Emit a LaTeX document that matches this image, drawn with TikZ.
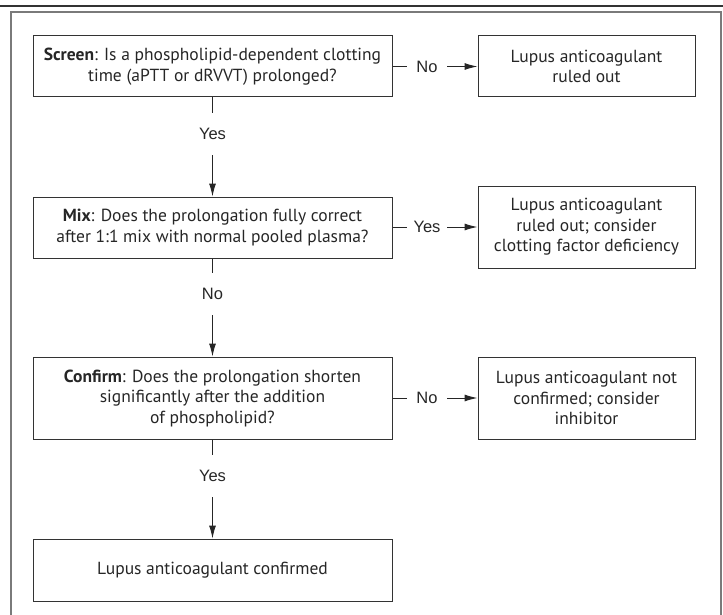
\documentclass[tikz,border=0pt]{standalone}
\usepackage{fontspec}
\setmainfont{PT Sans}
\newfontfamily\labfont{Liberation Sans}
\usetikzlibrary{arrows.meta}
\definecolor{boxline}{HTML}{333333}
\definecolor{framegray}{HTML}{7A7A7A}
\tikzset{
  fbox/.style={draw=boxline, line width=1pt, align=center, inner sep=0pt,
    font=\fontsize{17.5}{20.5}\selectfont, text=black!85},
  hlab/.style={inner sep=0pt, minimum width=40pt, font=\labfont\fontsize{16.5}{18}\selectfont, text=black!85},
  vlab/.style={inner sep=0pt, minimum height=42pt, font=\labfont\fontsize{16.5}{18}\selectfont, text=black!85},
  conn/.style={draw=black!85, line width=1pt},
  arr/.style={conn, -{Latex[length=13pt,width=7pt]}}
}
\begin{document}
\begin{tikzpicture}[x=1pt,y=-1pt]
\useasboundingbox (0,0) rectangle (723,615);
\draw[line width=1.2pt, black!80] (0,6) -- (723,6);
\draw[line width=1.5pt, framegray] (11,615) -- (11,12) -- (721,12) -- (721,615);

\node[fbox, minimum width=359pt, minimum height=61pt] (b1) at (212.5,66.5)
  {\textbf{Screen}: Is a phospholipid-dependent clotting\\time (aPTT or dRVVT) prolonged?};
\node[fbox, minimum width=217pt, minimum height=61pt] (r1) at (586.5,66.5)
  {Lupus anticoagulant\\ruled out};
\node[fbox, minimum width=359pt, minimum height=61pt] (b2) at (212.5,227.5)
  {\textbf{Mix}: Does the prolongation fully correct\\after 1:1 mix with normal pooled plasma?};
\node[fbox, minimum width=217pt, minimum height=82pt] (r2) at (586.5,227)
  {Lupus anticoagulant\\ruled out; consider\\clotting factor deficiency};
\node[fbox, minimum width=359pt, minimum height=82pt] (b3) at (212.5,398)
  {\textbf{Confirm}: Does the prolongation shorten\\significantly after the addition\\of phospholipid?};
\node[fbox, minimum width=217pt, minimum height=82pt] (r3) at (586.5,398)
  {Lupus anticoagulant not\\confirmed; consider\\inhibitor};
\node[fbox, minimum width=359pt, minimum height=62pt] (b4) at (212.5,570)
  {Lupus anticoagulant confirmed};

\node[hlab] (l1) at (427,66.5) {No};
\node[hlab] (l2) at (427,227) {Yes};
\node[hlab] (l3) at (427,398) {No};
\node[vlab] (v1) at (212.5,134) {Yes};
\node[vlab] (v2) at (212.5,294) {No};
\node[vlab] (v3) at (212.5,476) {Yes};

\draw[conn] (b1.east |- l1) -- (l1.west);
\draw[arr] (l1.east) -- (r1.west |- l1);
\draw[conn] (b2.east |- l2) -- (l2.west);
\draw[arr] (l2.east) -- (r2.west |- l2);
\draw[conn] (b3.east |- l3) -- (l3.west);
\draw[arr] (l3.east) -- (r3.west |- l3);

\draw[conn] (b1.south) -- (v1.north);
\draw[arr] (v1.south) -- (b2.north);
\draw[conn] (b2.south) -- (v2.north);
\draw[arr] (v2.south) -- (b3.north);
\draw[conn] (b3.south) -- (v3.north);
\draw[arr] (v3.south) -- (b4.north);
\end{tikzpicture}
\end{document}
